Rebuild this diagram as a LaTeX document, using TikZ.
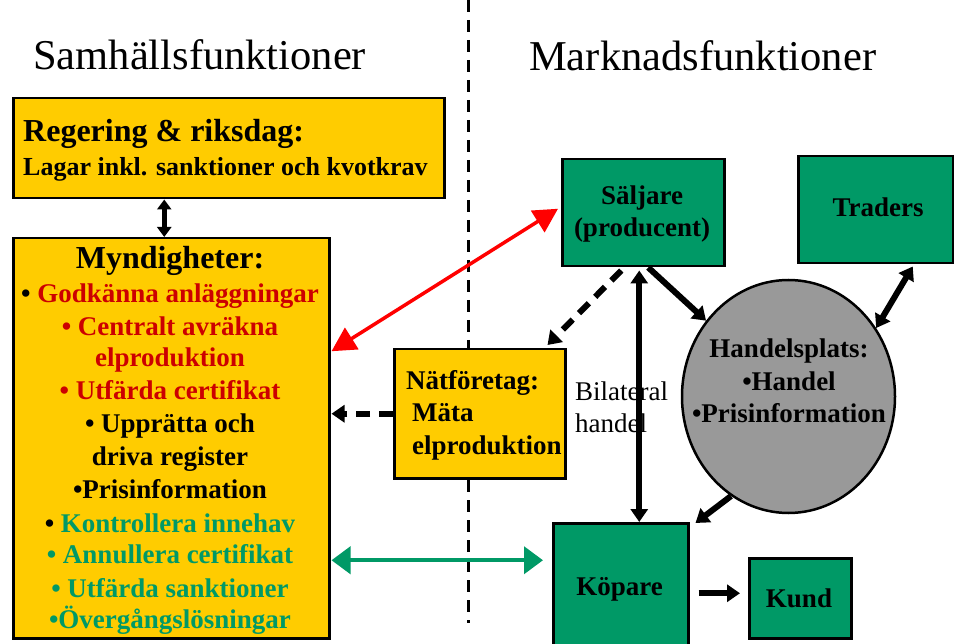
\documentclass[tikz,border=0pt]{standalone}
\usepackage{fontspec}
\setmainfont{Liberation Serif}
\usetikzlibrary{arrows.meta,shapes.geometric}
\definecolor{ybox}{HTML}{FFCC00}
\definecolor{gbox}{HTML}{009966}
\definecolor{gcirc}{HTML}{999999}
\definecolor{rtext}{HTML}{CC0000}
\definecolor{gtext}{HTML}{009966}
\definecolor{rarrow}{HTML}{FF0000}
\begin{document}
\begin{tikzpicture}[x=1pt,y=-1pt,
  box/.style={draw=black, line width=2.5pt, inner sep=0pt, anchor=north west},
  yellowbox/.style={box, fill=ybox},
  greenbox/.style={box, fill=gbox},
  txt/.style={inner sep=0pt, font=\fontsize{27}{32}\selectfont\bfseries},
  plaintxt/.style={inner sep=0pt, font=\fontsize{27}{32}\selectfont},
  headtxt/.style={inner sep=0pt, font=\fontsize{32}{38}\selectfont\bfseries},
  titletxt/.style={inner sep=0pt, font=\fontsize{42.5}{50}\selectfont},
  blkarrow/.style={line width=6pt, -{Triangle[length=13pt,width=17pt]}},
  blkdouble/.style={line width=6pt, {Triangle[length=13pt,width=17pt]}-{Triangle[length=13pt,width=17pt]}},
  thindouble/.style={line width=4.5pt, {Triangle[length=10pt,width=14pt]}-{Triangle[length=10pt,width=14pt]}},
  dasharrow/.style={line width=6pt, dash pattern=on 14pt off 9pt, -{Triangle[length=13pt,width=17pt]}},
  reddouble/.style={draw=rarrow, line width=3.5pt, {Triangle[length=24pt,width=25pt]}-{Triangle[length=24pt,width=25pt]}},
  greendouble/.style={draw=gtext, line width=4pt, {Triangle[length=19pt,width=27pt]}-{Triangle[length=19pt,width=27pt]}},
  divider/.style={line width=3pt, dash pattern=on 12pt off 8pt}
]
\useasboundingbox (0,0) rectangle (954,644);

% divider
\coordinate (dtop) at (468,0);
\coordinate (dbot) at (468,623);
\draw[divider] (dtop) -- (dbot);

% titles
\node[titletxt, anchor=base west] (t1) at (33,70) {Samhällsfunktioner};
\node[titletxt, anchor=base west] (t2) at (529,71) {Marknadsfunktioner};

% boxes
\node[yellowbox, minimum width=431pt, minimum height=100pt] (reg) at (12,97) {};
\node[yellowbox, minimum width=316pt, minimum height=400pt] (mynd) at (12,237) {};
\node[yellowbox, minimum width=171pt, minimum height=129pt] (nat) at (393,348) {};
\node[greenbox, minimum width=162pt, minimum height=107pt] (salj) at (561,158) {};
\node[greenbox, minimum width=155pt, minimum height=107pt] (trad) at (797,155) {};
\node[greenbox, minimum width=135pt, minimum height=140pt] (kop) at (552,522) {};
\node[greenbox, minimum width=102pt, minimum height=80pt] (kund) at (748,557) {};
\node[draw=black, line width=2.5pt, fill=gcirc, ellipse, inner sep=0pt,
      minimum width=213pt, minimum height=233pt] (hp) at (788.5,396.5) {};

% texts: Regering
\node[headtxt, anchor=base west] (regA) at (23,142) {Regering \& riksdag:};
\node[txt, anchor=base west, font=\fontsize{26}{32}\selectfont\bfseries] (regB) at (23,176) {Lagar inkl. sanktioner och kvotkrav};

% texts: Myndigheter
\node[headtxt, anchor=base] (mA) at (170,269) {Myndigheter:};
\node[txt, anchor=base] (m1) at (170,303) {• \textcolor{rtext}{Godkänna anläggningar}};
\node[txt, anchor=base, text=rtext] (m2) at (170,336) {• Centralt avräkna};
\node[txt, anchor=base, text=rtext] (m3) at (170,367) {elproduktion};
\node[txt, anchor=base, text=rtext] (m4) at (170,400) {• Utfärda certifikat};
\node[txt, anchor=base] (m5) at (170,433) {• Upprätta och};
\node[txt, anchor=base] (m6) at (170,466) {driva register};
\node[txt, anchor=base] (m7) at (170,498) {•Prisinformation};
\node[txt, anchor=base] (m8) at (170,532) {• \textcolor{gtext}{Kontrollera innehav}};
\node[txt, anchor=base, text=gtext] (m9) at (170,563) {• Annullera certifikat};
\node[txt, anchor=base, text=gtext] (m10) at (170,597) {• Utfärda sanktioner};
\node[txt, anchor=base, text=gtext] (m11) at (170,628) {•Övergångslösningar};

% texts: Nätföretag
\node[txt, anchor=base west] (natA) at (406,390) {Nätföretag:};
\node[txt, anchor=base west] (natB) at (412,422) {Mäta};
\node[txt, anchor=base west] (natC) at (412,454) {elproduktion};

% bilateral
\node[plaintxt, anchor=base west] (bilA) at (575,401) {Bilateral};
\node[plaintxt, anchor=base west] (bilB) at (575,433) {handel};

% market texts
\node[txt, anchor=base] (saljA) at (642,205) {Säljare};
\node[txt, anchor=base] (saljB) at (642,237) {(producent)};
\node[txt, anchor=base] (tradA) at (878,217) {Traders};
\node[txt, anchor=base] (hpA) at (789,358) {Handelsplats:};
\node[txt, anchor=base] (hpB) at (789,391) {•Handel};
\node[txt, anchor=base] (hpC) at (789,423) {•Prisinformation};
\node[txt, anchor=base] (kopA) at (619.5,595) {Köpare};
\node[txt, anchor=base] (kundA) at (799,607) {Kund};

% connectors
\draw[thindouble] ([xshift=-7pt]mynd.north) -- ([xshift=-7pt]mynd.north |- reg.south);
\draw[reddouble] ([xshift=1pt,yshift=87pt]mynd.east) -- ([xshift=-3pt,yshift=4pt]salj.west);
\draw[dasharrow] ([xshift=-22pt,yshift=-3pt]salj.south) -- ([xshift=-19pt,yshift=3pt]nat.north east);
\draw[dasharrow] (nat.west) -- ([xshift=1pt]mynd.east |- nat.west);
\draw[blkdouble] ([xshift=-4pt,yshift=-3pt]salj.south) -- ([xshift=-4pt]salj.south |- kop.north);
\draw[blkarrow] ([xshift=5pt]salj.south) -- (hp);
\draw[blkdouble] ([xshift=37pt,yshift=-2pt]trad.south) -- (hp.38);
\draw[blkarrow] (hp.240) -- ([xshift=6pt,yshift=-1pt]kop.north east);
\draw[blkarrow] ([xshift=9pt]kop.east) -- ([xshift=-8pt]kop.east -| kund.west);
\coordinate (g1) at ([xshift=1pt,yshift=-122pt]mynd.east);
\draw[greendouble] (g1) -- ([xshift=-9pt]kop.west |- g1);
\end{tikzpicture}
\end{document}
